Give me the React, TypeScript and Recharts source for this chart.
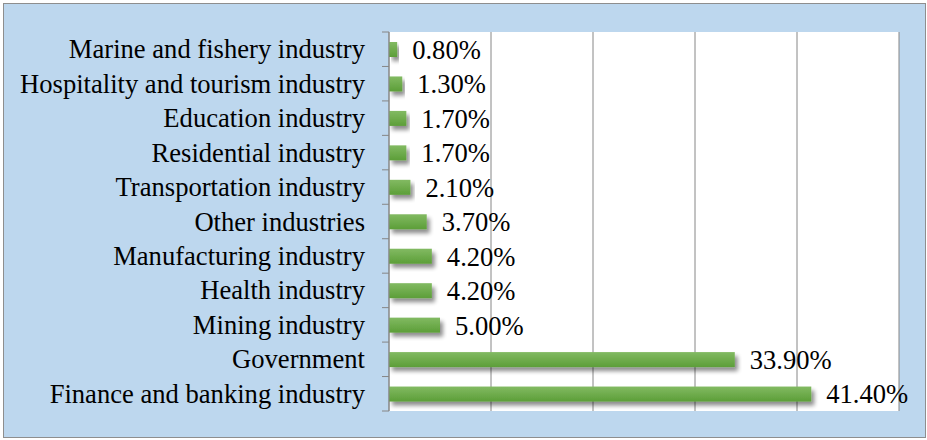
import React from 'react';
import { BarChart, Bar, XAxis, YAxis, CartesianGrid, LabelList } from 'recharts';

const categories = [
  'Marine and fishery industry',
  'Hospitality and tourism industry',
  'Education industry',
  'Residential industry',
  'Transportation industry',
  'Other industries',
  'Manufacturing industry',
  'Health industry',
  'Mining industry',
  'Government',
  'Finance and banking industry',
];
const shares = [0.8, 1.3, 1.7, 1.7, 2.1, 3.7, 4.2, 4.2, 5.0, 33.9, 41.4];
const xTicks = [0, 10, 20, 30, 40, 50];

const W = 927;
const H = 440;
const MARGIN = { top: 32, right: 28, bottom: 29, left: 0 };
const AXIS_W = 389;
const TICK_GAP = 24;
const BAND = (H - MARGIN.top - MARGIN.bottom) / categories.length;
const FONT = 'Liberation Serif';
const FS = 26.6;

const data = categories.map((name, i) => ({ name, value: shares[i] }));

const CategoryTick = (props: any) => {
  const { x, y, payload, index } = props;
  const ax = x + TICK_GAP;
  return (
    <g>
      <text x={x} y={y} dy={9} textAnchor="end" style={{ fontSize: FS, fontFamily: FONT, fill: '#000' }}>
        {payload.value}
      </text>
      <line x1={ax - 7} x2={ax} y1={y + BAND / 2} y2={y + BAND / 2} stroke="#868686" />
      {index === 0 && <line x1={ax - 7} x2={ax} y1={y - BAND / 2} y2={y - BAND / 2} stroke="#868686" />}
    </g>
  );
};

const ShadowBar = (props: any) => {
  const { x, y, width, height } = props;
  if (!width || width <= 0) return null;
  return <rect x={x} y={y} width={width} height={height} fill="url(#barGreen)" filter="url(#barShadow)" />;
};

export default function App() {
  return (
    <div style={{ position: 'absolute', left: 0, top: 0, width: W, height: H, background: '#fff', fontFamily: FONT }}>
      <svg width={0} height={0} style={{ position: 'absolute' }}>
        <defs>
          <linearGradient id="barGreen" x1="0" y1="0" x2="0" y2="1">
            <stop offset="0%" stopColor="#82BA62" />
            <stop offset="100%" stopColor="#5C9E38" />
          </linearGradient>
          <filter id="barShadow" x="-10%" y="-50%" width="130%" height="250%">
            <feGaussianBlur in="SourceAlpha" stdDeviation="2" />
            <feOffset dx="3" dy="4" result="off" />
            <feComponentTransfer>
              <feFuncA type="linear" slope="0.45" />
            </feComponentTransfer>
            <feMerge>
              <feMergeNode />
              <feMergeNode in="SourceGraphic" />
            </feMerge>
          </filter>
        </defs>
      </svg>
      <div
        style={{
          position: 'absolute',
          left: 3,
          top: 3,
          width: 921,
          height: 433,
          background: '#BDD7EE',
          border: '1px solid #8E8E8E',
        }}
      />
      <div style={{ position: 'absolute', left: 0, top: 0 }}>
        <BarChart width={W} height={H} data={data} layout="vertical" margin={MARGIN} barCategoryGap={0}>
          <CartesianGrid horizontal={false} stroke="#868686" fill="#fff" fillOpacity={1} />
          <XAxis type="number" domain={[0, 50]} ticks={xTicks} hide />
          <YAxis
            type="category"
            dataKey="name"
            width={AXIS_W}
            tickSize={0}
            tickMargin={TICK_GAP}
            tickLine={false}
            axisLine={{ stroke: '#868686' }}
            tick={<CategoryTick />}
            interval={0}
          />
          <Bar dataKey="value" barSize={15} shape={<ShadowBar />} isAnimationActive={false}>
            <LabelList
              dataKey="value"
              position="right"
              offset={15}
              formatter={(v: any) => `${Number(v).toFixed(2)}%`}
              style={{ fontSize: FS, fontFamily: FONT, fill: '#000' }}
            />
          </Bar>
        </BarChart>
      </div>
    </div>
  );
}
